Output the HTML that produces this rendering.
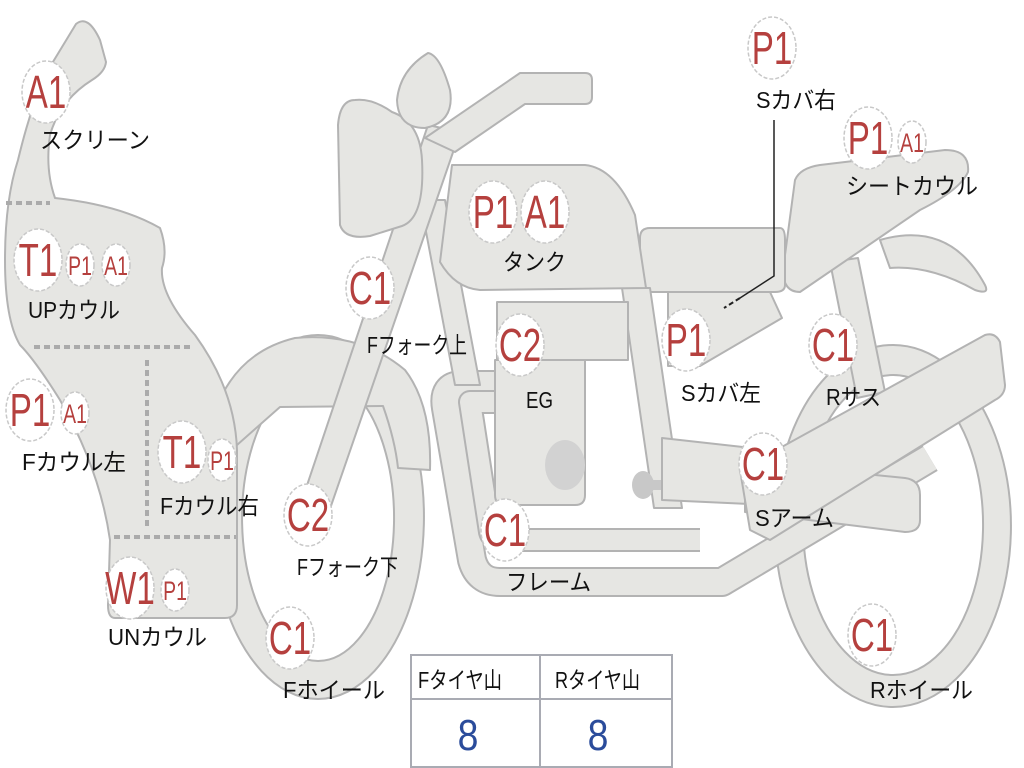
<!DOCTYPE html>
<html><head><meta charset="utf-8"><style>
html,body{margin:0;padding:0;background:#fff;}
svg{display:block;}
.s{fill:#e6e6e3;stroke:#b3b3b3;stroke-width:2;stroke-linejoin:round;}
.lb{font-family:"Liberation Sans","Noto Sans CJK JP",sans-serif;font-size:23px;fill:#111;}
.m{fill:#fff;stroke:#c8c8c8;stroke-width:1.5;stroke-dasharray:4 2;}
.mt{font-family:"Liberation Sans","Noto Sans CJK JP",sans-serif;fill:#b5403e;text-anchor:middle;}
</style></head><body>
<svg width="1024" height="768" viewBox="0 0 1024 768" xmlns="http://www.w3.org/2000/svg">
<path class="s" fill-rule="evenodd" d="M318,335 A106,182 0 1,1 317.9,335 Z M318,375 A76,143 0 1,0 318.1,375 Z"/>
<path class="s" fill-rule="evenodd" d="M893,345 A118,181 0 1,1 892.9,345 Z M893,375 A90,150 0 1,0 893.1,375 Z"/>
<path class="s" d="M237,445 L280,407 L383,406 Q395,440 398,468 L430,470 Q432,405 405,370 Q360,332 295,338 Q245,350 222,395 Z"/>
<path class="s" d="M830,262 L858,258 L885,392 L857,398 Z"/>
<path class="s" d="M880,240 Q950,220 985,285 Q990,295 975,290 Q930,265 890,268 Z"/>
<path class="s" d="M795,180 Q800,168 820,165 L945,150 Q970,150 968,172 Q960,190 920,210 L800,292 Q783,292 783,270 Z"/>
<path class="s" d="M640,238 Q640,228 650,228 L780,228 Q785,228 785,240 L785,285 Q785,292 775,292 L650,292 Q640,292 640,282 Z"/>
<path class="s" d="M668,292 L770,292 L782,318 L700,366 L668,366 Z"/>
<path d="M505,385 L462,385 Q442,385 446,408 L472,560 Q478,582 500,582 L722,582 L930,458" fill="none" stroke="#b3b3b3" stroke-width="30" stroke-linejoin="round"/>
<path d="M505,385 L462,385 Q442,385 446,408 L472,560 Q478,582 500,582 L722,582 L930,458" fill="none" stroke="#e6e6e3" stroke-width="26" stroke-linejoin="round"/>
<path d="M505,402 L470,402 L490,532 Q492,540 505,540 L700,540" fill="none" stroke="#b3b3b3" stroke-width="24" stroke-linejoin="round"/>
<path d="M505,402 L470,402 L490,532 Q492,540 505,540 L700,540" fill="none" stroke="#e6e6e3" stroke-width="20" stroke-linejoin="round"/>
<path class="s" d="M622,288 L650,288 L682,508 L654,508 Z"/>
<path class="s" d="M497,302 L628,302 L628,360 L497,360 Z"/>
<path class="s" d="M495,360 L585,360 L585,495 Q585,505 575,505 L505,505 Q495,505 495,495 Z"/>
<ellipse cx="565" cy="465" rx="20" ry="25" fill="#d2d2d2"/>
<rect x="640" y="480" width="55" height="10" fill="#c8c8c8"/>
<ellipse cx="643" cy="485" rx="11" ry="14" fill="#c8c8c8"/>
<ellipse cx="690" cy="485" rx="11" ry="14" fill="#c8c8c8"/>
<path class="s" d="M662,438 L770,450 L770,505 L662,500 Z"/>
<path class="s" d="M745,462 L905,478 Q920,480 920,495 L920,520 Q920,532 905,532 L745,512 Z"/>
<path class="s" d="M740,470 L985,335 Q995,332 1000,342 L1005,385 Q1005,395 995,400 L770,540 L750,530 Z"/>
<path class="s" d="M420,200 L445,200 L480,385 L455,385 Z"/>
<path class="s" d="M452,165 L585,165 Q615,168 635,215 L646,288 L480,290 Q455,288 440,262 Z"/>
<path class="s" d="M428,125 L460,132 L322,532 Q312,548 298,540 L292,530 Z"/>
<path class="s" d="M425,138 L520,73 L585,73 Q592,73 592,80 L592,97 Q592,104 585,104 L525,104 L455,152 Z"/>
<path class="s" d="M355,100 Q372,98 392,112 Q420,122 422,160 Q425,218 402,226 L370,236 Q345,240 340,225 L338,125 Q340,100 355,100 Z"/>
<path class="s" d="M428,53 Q440,55 450,90 Q455,122 425,128 Q398,128 397,100 Q400,70 428,53 Z"/>
<path class="s" d="M76,24 Q88,14 100,40 L106,62 Q105,72 92,80 Q60,100 50,135 Q45,170 55,198 Q120,205 160,228 Q168,250 162,268 Q160,295 195,335 Q235,390 237,450 L237,605 Q237,618 225,618 L115,618 Q108,618 108,605 L110,540 Q100,470 60,400 Q35,360 20,345 Q5,320 5,260 Q5,200 18,160 Q30,110 45,75 Z"/>
<g stroke="#ababab" stroke-width="4" stroke-dasharray="6 4" fill="none">
<path d="M6,203 L50,203"/>
<path d="M34,347 L192,347"/>
<path d="M147,360 L147,530"/>
<path d="M114,537 L236,537"/>
</g>
<path d="M774,120 L774,276 L740,298" stroke="#222" stroke-width="1.5" fill="none"/>
<path d="M740,298 L724,308" stroke="#222" stroke-width="2" stroke-dasharray="5 3" fill="none"/>
<g>
<ellipse class="m" cx="46" cy="92" rx="24" ry="31"/><text class="mt" font-size="46" transform="translate(46,108) scale(0.72,1)">A1</text>
<ellipse class="m" cx="38" cy="260" rx="24" ry="31"/><text class="mt" font-size="46" transform="translate(38,276) scale(0.72,1)">T1</text>
<ellipse class="m" cx="30" cy="410" rx="24" ry="31"/><text class="mt" font-size="46" transform="translate(30,426) scale(0.72,1)">P1</text>
<ellipse class="m" cx="182" cy="452" rx="24" ry="31"/><text class="mt" font-size="46" transform="translate(182,468) scale(0.72,1)">T1</text>
<ellipse class="m" cx="130" cy="588" rx="24" ry="31"/><text class="mt" font-size="46" transform="translate(130,604) scale(0.72,1)">W1</text>
<ellipse class="m" cx="308" cy="515" rx="24" ry="31"/><text class="mt" font-size="46" transform="translate(308,531) scale(0.72,1)">C2</text>
<ellipse class="m" cx="290" cy="638" rx="24" ry="31"/><text class="mt" font-size="46" transform="translate(290,654) scale(0.72,1)">C1</text>
<ellipse class="m" cx="370" cy="288" rx="24" ry="31"/><text class="mt" font-size="46" transform="translate(370,304) scale(0.72,1)">C1</text>
<ellipse class="m" cx="493" cy="212" rx="24" ry="31"/><text class="mt" font-size="46" transform="translate(493,228) scale(0.72,1)">P1</text>
<ellipse class="m" cx="545" cy="212" rx="24" ry="31"/><text class="mt" font-size="46" transform="translate(545,228) scale(0.72,1)">A1</text>
<ellipse class="m" cx="520" cy="345" rx="24" ry="31"/><text class="mt" font-size="46" transform="translate(520,361) scale(0.72,1)">C2</text>
<ellipse class="m" cx="505" cy="530" rx="24" ry="31"/><text class="mt" font-size="46" transform="translate(505,546) scale(0.72,1)">C1</text>
<ellipse class="m" cx="686" cy="340" rx="24" ry="31"/><text class="mt" font-size="46" transform="translate(686,356) scale(0.72,1)">P1</text>
<ellipse class="m" cx="833" cy="345" rx="24" ry="31"/><text class="mt" font-size="46" transform="translate(833,361) scale(0.72,1)">C1</text>
<ellipse class="m" cx="763" cy="464" rx="24" ry="31"/><text class="mt" font-size="46" transform="translate(763,480) scale(0.72,1)">C1</text>
<ellipse class="m" cx="872" cy="635" rx="24" ry="31"/><text class="mt" font-size="46" transform="translate(872,651) scale(0.72,1)">C1</text>
<ellipse class="m" cx="772" cy="48" rx="24" ry="31"/><text class="mt" font-size="46" transform="translate(772,64) scale(0.72,1)">P1</text>
<ellipse class="m" cx="868" cy="138" rx="24" ry="31"/><text class="mt" font-size="46" transform="translate(868,154) scale(0.72,1)">P1</text>
</g>
<g>
<ellipse class="m" cx="80" cy="265" rx="14" ry="21"/><text class="mt" font-size="27" transform="translate(80,275) scale(0.72,1)">P1</text>
<ellipse class="m" cx="116" cy="265" rx="14" ry="21"/><text class="mt" font-size="27" transform="translate(116,275) scale(0.72,1)">A1</text>
<ellipse class="m" cx="75" cy="413" rx="14" ry="21"/><text class="mt" font-size="27" transform="translate(75,423) scale(0.72,1)">A1</text>
<ellipse class="m" cx="222" cy="460" rx="14" ry="21"/><text class="mt" font-size="27" transform="translate(222,470) scale(0.72,1)">P1</text>
<ellipse class="m" cx="175" cy="590" rx="14" ry="21"/><text class="mt" font-size="27" transform="translate(175,600) scale(0.72,1)">P1</text>
<ellipse class="m" cx="912" cy="142" rx="14" ry="21"/><text class="mt" font-size="27" transform="translate(912,152) scale(0.72,1)">A1</text>
</g>
<g class="lb">
<text x="40" y="148" textLength="110" lengthAdjust="spacingAndGlyphs">スクリーン</text>
<text x="28" y="318" textLength="92" lengthAdjust="spacingAndGlyphs">UPカウル</text>
<text x="22" y="470" textLength="104" lengthAdjust="spacingAndGlyphs">Fカウル左</text>
<text x="160" y="514" textLength="99" lengthAdjust="spacingAndGlyphs">Fカウル右</text>
<text x="108" y="645" textLength="99" lengthAdjust="spacingAndGlyphs">UNカウル</text>
<text x="297" y="575" textLength="101" lengthAdjust="spacingAndGlyphs">Fフォーク下</text>
<text x="283" y="698" textLength="102" lengthAdjust="spacingAndGlyphs">Fホイール</text>
<text x="367" y="353" textLength="100" lengthAdjust="spacingAndGlyphs">Fフォーク上</text>
<text x="503" y="270" textLength="63" lengthAdjust="spacingAndGlyphs">タンク</text>
<text x="526" y="408" textLength="27" lengthAdjust="spacingAndGlyphs">EG</text>
<text x="506" y="590" textLength="85" lengthAdjust="spacingAndGlyphs">フレーム</text>
<text x="756" y="108" textLength="80" lengthAdjust="spacingAndGlyphs">Sカバ右</text>
<text x="846" y="194" textLength="132" lengthAdjust="spacingAndGlyphs">シートカウル</text>
<text x="681" y="401" textLength="80" lengthAdjust="spacingAndGlyphs">Sカバ左</text>
<text x="826" y="405" textLength="55" lengthAdjust="spacingAndGlyphs">Rサス</text>
<text x="755" y="526" textLength="79" lengthAdjust="spacingAndGlyphs">Sアーム</text>
<text x="870" y="698" textLength="103" lengthAdjust="spacingAndGlyphs">Rホイール</text>
</g>
<rect x="411" y="655" width="261" height="112" fill="#fff" stroke="#a9abb3" stroke-width="2"/>
<line x1="411" y1="699" x2="672" y2="699" stroke="#a9abb3" stroke-width="2"/>
<line x1="540" y1="655" x2="540" y2="767" stroke="#a9abb3" stroke-width="2"/>
<g class="lb">
<text x="418" y="688" textLength="84" lengthAdjust="spacingAndGlyphs">Fタイヤ山</text>
<text x="555" y="688" textLength="85" lengthAdjust="spacingAndGlyphs">Rタイヤ山</text>
</g>
<text x="468" y="750" font-family="Liberation Sans,sans-serif" font-size="44" fill="#2b4c9b" text-anchor="middle" transform="translate(468,0) scale(0.85,1) translate(-468,0)">8</text>
<text x="598" y="750" font-family="Liberation Sans,sans-serif" font-size="44" fill="#2b4c9b" text-anchor="middle" transform="translate(598,0) scale(0.85,1) translate(-598,0)">8</text>
</svg>
</body></html>
